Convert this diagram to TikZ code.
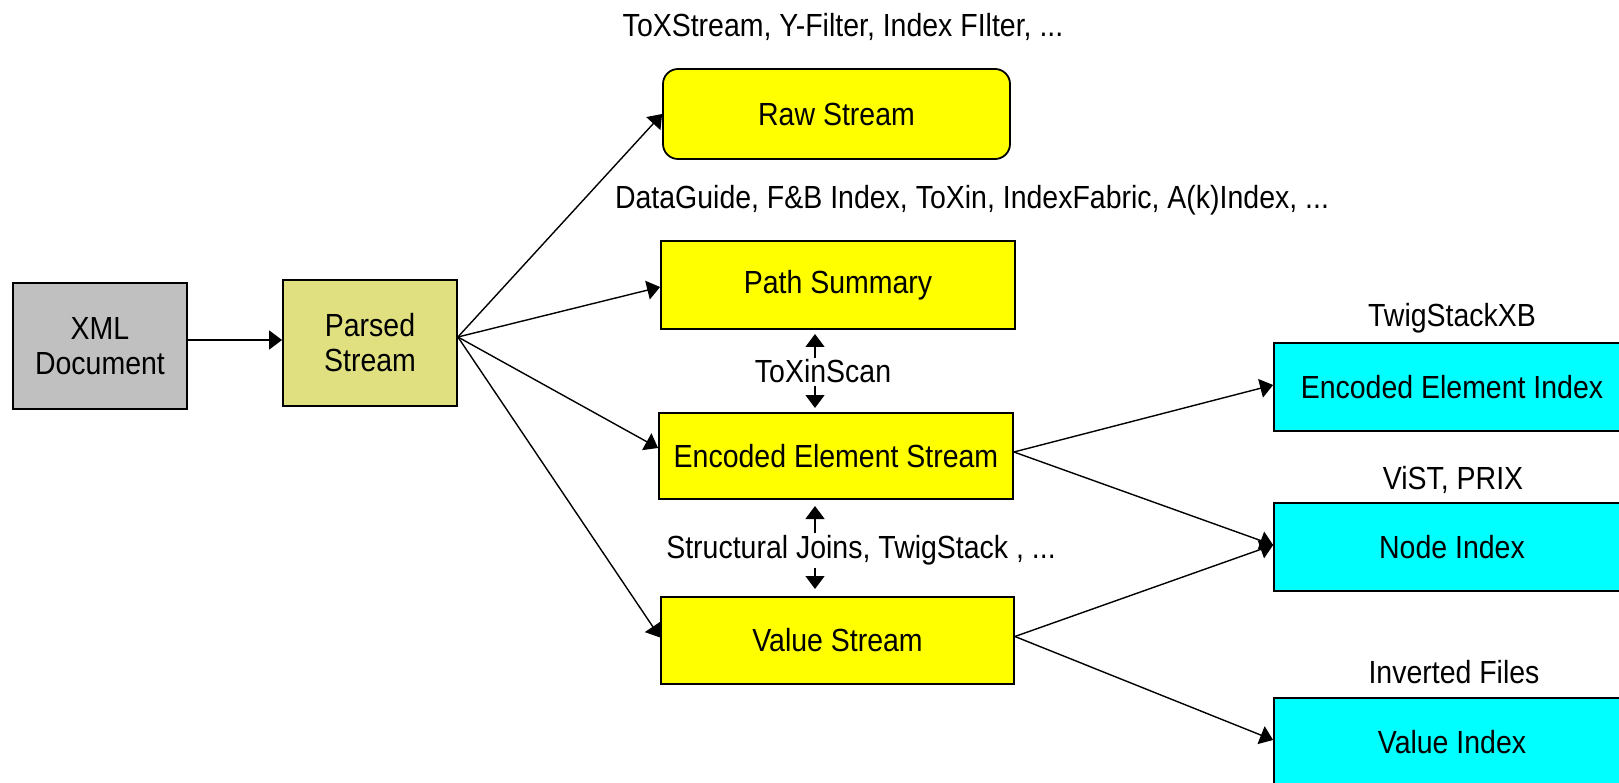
\documentclass[tikz,border=0pt]{standalone}
\usepackage{fontspec}
\setmainfont[FakeStretch=0.89]{Liberation Sans}
\usetikzlibrary{arrows.meta}
\definecolor{khaki}{RGB}{224,224,128}
\definecolor{xgray}{RGB}{192,192,192}
\definecolor{xyellow}{RGB}{255,255,0}
\definecolor{xcyan}{RGB}{0,255,255}
\tikzset{
  box/.style={draw=black, line width=1.8pt, inner sep=0pt, align=center,
    font=\fontsize{32}{35}\selectfont},
  lbl/.style={inner sep=0pt, font=\fontsize{32}{35}\selectfont},
  arr/.style={line width=1.4pt, -{Triangle[length=13pt,width=19pt]}},
}
\begin{document}
\begin{tikzpicture}[x=1pt,y=-1pt]
\clip (0,0) rectangle (1619,783);
\fill[white] (0,0) rectangle (1619,783);
% boxes
\node[box, fill=xgray, minimum width=174pt, minimum height=126pt] (xml) at (100,346) {XML\\Document};
\node[box, fill=khaki, minimum width=174pt, minimum height=126pt] (parsed) at (370,343) {Parsed\\Stream};
\node[box, fill=xyellow, rounded corners=15pt, minimum width=347pt, minimum height=90pt] (raw) at (836.5,114) {Raw Stream};
\node[box, fill=xyellow, minimum width=354pt, minimum height=88pt] (path) at (838,285) {Path Summary};
\node[box, fill=xyellow, minimum width=354pt, minimum height=86pt] (enc) at (836,456) {Encoded Element Stream};
\node[box, fill=xyellow, minimum width=353pt, minimum height=87pt] (val) at (837.5,640.5) {Value Stream};
\node[box, fill=xcyan, minimum width=356pt, minimum height=88pt] (eei) at (1452,387) {Encoded Element Index};
\node[box, fill=xcyan, minimum width=356pt, minimum height=88pt] (nidx) at (1452,547) {Node Index};
\node[box, fill=xcyan, minimum width=356pt, minimum height=88pt] (vidx) at (1452,742) {Value Index};
% labels
\node[lbl] (l1) at (843,27) {ToXStream, Y-Filter, Index FIlter, ...};
\node[lbl] (l2) at (972,200) {DataGuide, F\&B Index, ToXin, IndexFabric, A(k)Index, ...};
\node[lbl] (l3) at (823,371) {ToXinScan};
\node[lbl] (l4) at (861,550) {Structural Joins, TwigStack , ...};
\node[lbl] (l5) at (1452,318) {TwigStackXB};
\node[lbl] (l6) at (1453,480) {ViST, PRIX};
\node[lbl] (l7) at (1454,672) {Inverted Files};
% connectors
\draw[arr] (xml.east |- 0,340) -- (parsed.west |- 0,340);
\draw[arr] ([yshift=6pt]parsed.east) -- (raw.west);
\draw[arr] ([yshift=6pt]parsed.east) -- ([yshift=-2pt]path.west);
\draw[arr] ([yshift=6pt]parsed.east) -- ([yshift=8pt]enc.west);
\draw[arr] ([yshift=6pt]parsed.east) -- ([yshift=3pt]val.west);
\draw[arr] ([yshift=4pt]enc.east) -- ([yshift=2pt]eei.west);
\draw[arr] ([yshift=4pt]enc.east) -- ([yshift=2pt]nidx.west);
\draw[arr] ([yshift=4pt]val.east) -- ([yshift=2pt]nidx.west);
\draw[arr] ([yshift=4pt]val.east) -- ([yshift=2pt]vidx.west);
% double arrows
\coordinate (a1) at (815,358);
\coordinate (a2) at (815,334);
\coordinate (a3) at (815,386);
\coordinate (a4) at (815,408);
\coordinate (b1) at (815,533);
\coordinate (b2) at (815,506);
\coordinate (b3) at (815,568);
\coordinate (b4) at (815,589);
\draw[arr] (a1) -- (a2);
\draw[arr] (a3) -- (a4);
\draw[arr] (b1) -- (b2);
\draw[arr] (b3) -- (b4);
\end{tikzpicture}
\end{document}
